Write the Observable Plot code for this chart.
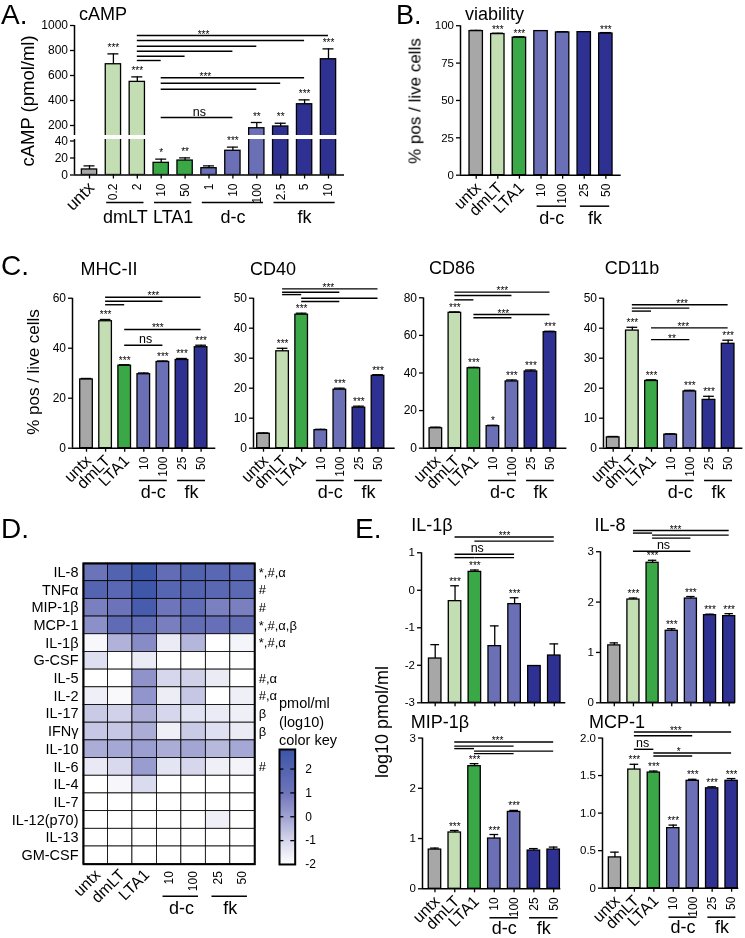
<!DOCTYPE html>
<html><head><meta charset="utf-8">
<script src="https://cdn.jsdelivr.net/npm/d3@7"></script>
<script src="https://cdn.jsdelivr.net/npm/@observablehq/plot@0.6"></script>
<style>
body{margin:0;background:#fff;}
#fig{position:relative;width:745px;height:938px;overflow:hidden;font-family:"Liberation Sans",Arial,Helvetica,sans-serif;color:#000;background:#fff;}
#fig svg{will-change:transform;}
.t{position:absolute;white-space:nowrap;line-height:1;}
</style></head><body><div id="fig"></div>
<script>
// ---------------- DATA ----------------
// Panel A: cAMP (pmol/ml)
const aLabels = ["untx","0.2","2","10","50","1","10","100","2.5","5","10"];
const aConds  = ["untx","dmLT","dmLT","LTA1","LTA1","dc","dc","dc","fk","fk","fk"];
const aValues = [6.5, 690, 549, 14.3, 17, 8, 28.5, 178, 192, 370, 730];
const aErrors = [4.3, 83, 40, 4.3, 3.2, 2.8, 4.2, 46, 26, 35, 83];
const aStars  = ["","***","***","*","**","","***","**","**","***","***"];
const aGroupNames = ["dmLT","LTA1","d-c","fk"];
const aGroupFrom = [1,3,5,8];
const aGroupTo   = [2,4,7,10];
const aSigFrom = [2,2,2,2,2,2,3,3,3,3];
const aSigTo   = [10,9,7,6,4,3,9,8,7,6];
const aSigY    = [920,880,834,794,754,720,582,538,490,264];
const aSigText = ["***","***","ns"];
const aSigTextX = [4.77,4.85,4.6];
const aSigTextY = [920,582,264];

// 7-condition panels (B, C, D, E)
const conds7 = ["untx","dmLT","LTA1","dc","dc","fk","fk"];
const labels7 = ["untx","dmLT","LTA1","10","100","25","50"];
const groupNames7 = ["d-c","fk"];
const groupFrom7 = [3,5];
const groupTo7 = [4,6];

// Panel B: viability
const bValues = [96.4, 94.4, 92.0, 96.4, 95.5, 95.7, 94.8];
const bErrors = [0.5, 0.6, 0.6, 0, 0.5, 0, 0.6];
const bStars  = ["","***","***","","","","***"];

// Panel C
const mhcValues = [27.5, 50.8, 33.0, 29.6, 34.5, 35.3, 40.4];
const mhcErrors = [0.4, 0.7, 0.4, 0.5, 0.4, 0.6, 0.8];
const mhcStars  = ["","***","***","","***","***","***"];
const mhcSigFrom = [1,1,1,2,2], mhcSigTo = [6,4,2,6,4], mhcSigY = [60.4,58.8,57.4,47.5,41.2];
const mhcSigText = ["***","***","ns"], mhcSigTextX = [3.5,3.73,3.1], mhcSigTextY = [60.4,47.5,41.2];

const cd40Values = [4.8, 32.3, 44.5, 6.0, 19.5, 13.5, 24.1];
const cd40Errors = [0.3, 1.0, 0.5, 0.3, 0.5, 0.5, 0.4];
const cd40Stars  = ["","***","***","","***","***","***"];
const cd40SigFrom = [1,1,1,2,2], cd40SigTo = [6,4,2,6,4], cd40SigY = [53.1,52.0,51.2,50.0,48.9];
const cd40SigText = ["***"], cd40SigTextX = [3.4], cd40SigTextY = [53.1];

const cd86Values = [10.6, 72.0, 42.5, 11.7, 35.5, 40.8, 61.7];
const cd86Errors = [0.6, 0.5, 0.5, 0.5, 0.8, 0.8, 0.5];
const cd86Stars  = ["","***","***","*","***","***","***"];
const cd86SigFrom = [1,1,1,2,2], cd86SigTo = [6,4,2,6,4], cd86SigY = [83,81.2,78.9,71.1,69.4];
const cd86SigText = ["***","***"], cd86SigTextX = [3.5,3.55], cd86SigTextY = [83,71.1];

const cd11bValues = [3.6, 39.2, 22.4, 4.5, 18.9, 16.1, 34.8];
const cd11bErrors = [0.3, 1.1, 0.4, 0.3, 0.4, 1.2, 1.2];
const cd11bStars  = ["","***","***","","***","***","***"];
const cd11bSigFrom = [1,1,1,2,2], cd11bSigTo = [6,4,2,6,4], cd11bSigY = [47.8,46.7,45.7,40.1,36.2];
const cd11bSigText = ["***","***","**"], cd11bSigTextX = [3.6,3.66,3.07], cd11bSigTextY = [47.8,40.1,36.2];

// Panel D: heatmap, log10 pmol/ml
const cytokines = ["IL-8","TNFα","MIP-1β","MCP-1","IL-1β","G-CSF","IL-5","IL-2","IL-17","IFNγ","IL-10","IL-6","IL-4","IL-7","IL-12(p70)","IL-13","GM-CSF"];
const cytokineNotes = ["*,#,α","#","#","*,#,α,β","*,#,α","","#,α","#,α","β","β","","#","","","","",""];
const heatmapValues = [
  [1.14, 2.05, 2.78, 1.43, 2.07, 1.74, 1.72],
  [1.95, 1.75, 2.70, 1.85, 2.00, 1.75, 1.70],
  [0.78, 1.12, 2.44, 1.00, 1.53, 0.76, 0.78],
  [0.41, 1.58, 1.54, 0.80, 1.43, 1.33, 1.43],
  [-1.82, -0.29, 0.49, -1.49, -0.37, -2.0, -1.74],
  [-1.2, -2.0, -1.5, -2.0, -2.0, -2.0, -2.0],
  [-2.0, -2.0, 0.35, -1.0, -0.9, -1.5, -2.0],
  [-1.6, -1.85, 0.3, -1.55, -0.7, -2.0, -1.6],
  [-0.75, -0.9, -0.2, -1.0, -1.3, -1.5, -1.6],
  [-0.7, -0.7, -0.2, -1.6, -0.75, -1.2, -1.5],
  [-0.2, -0.1, 0.1, -0.2, -0.05, -0.4, -0.1],
  [-1.45, -1.05, 0.15, -1.35, -1.0, -1.6, -1.7],
  [-2.0, -1.8, -1.1, -2.0, -2.0, -2.0, -2.0],
  [-2.0, -2.0, -2.0, -2.0, -2.0, -2.0, -2.0],
  [-2.0, -2.0, -2.0, -2.0, -2.0, -1.6, -2.0],
  [-2.0, -2.0, -2.0, -2.0, -2.0, -2.0, -2.0],
  [-2.0, -2.0, -2.0, -2.0, -2.0, -2.0, -2.0]
];
const keyLabels = [-2,-1,0,1,2];
const keyDashes = [-1,0,1,2];

// Panel E: log10 pmol/ml
const il1bValues = [-1.82, -0.29, 0.49, -1.49, -0.37, -2.02, -1.74];
const il1bErrors = [0.37, 0.41, 0.05, 0.54, 0.17, 0, 0.31];
const il1bStars  = ["","***","***","","***","",""];
const il1bSigFrom = [1,2,1,1,2], il1bSigTo = [6,6,4,2,4], il1bSigY = [1.42,1.31,0.96,0.87,0.87];
const il1bSigText = ["***","ns"], il1bSigTextX = [3.49,2.12], il1bSigTextY = [1.42,0.96];

const il8Values = [1.14, 2.05, 2.78, 1.43, 2.07, 1.74, 1.72];
const il8Errors = [0.05, 0.03, 0.05, 0.04, 0.04, 0.02, 0.05];
const il8Stars  = ["","***","***","***","***","***","***"];
const il8SigFrom = [1,1,2,2,1], il8SigTo = [6,2,6,4,4], il8SigY = [3.42,3.37,3.33,3.27,3.01];
const il8SigText = ["***","ns"], il8SigTextX = [3.2,2.57], il8SigTextY = [3.42,3.01];

const mipValues = [0.78, 1.12, 2.44, 1.00, 1.53, 0.76, 0.78];
const mipErrors = [0.03, 0.04, 0.05, 0.08, 0.03, 0.04, 0.05];
const mipStars  = ["","***","***","***","***","",""];
const mipSigFrom = [1,1,1,2,2], mipSigTo = [6,4,2,6,4], mipSigY = [2.92,2.84,2.79,2.74,2.69];
const mipSigText = ["***"], mipSigTextX = [3.16], mipSigTextY = [2.92];

const mcpValues = [0.41, 1.58, 1.54, 0.80, 1.43, 1.33, 1.43];
const mcpErrors = [0.07, 0.07, 0.02, 0.04, 0.02, 0.02, 0.03];
const mcpStars  = ["","***","***","***","***","***","***"];
const mcpSigFrom = [1,1,1,2,2], mcpSigTo = [6,4,2,6,4], mcpSigY = [2.08,2.03,1.85,1.80,1.76];
const mcpSigText = ["***","ns","*"], mcpSigTextX = [3.13,1.42,3.28], mcpSigTextY = [2.08,1.85,1.80];

// ---------------- STYLE ----------------
const COLORS = {untx: "#a7a7a7", dmLT: "#c3deb3", LTA1: "#3ba848", dc: "#6b6fb6", fk: "#2e3191"};
const HEAT_COLOR = {type: "linear", domain: [-2, -1, 0, 1, 2.82], range: ["#ffffff", "#d6d7ec", "#a0a3d2", "#6f75ba", "#3c55a8"], clamp: true};
const FONT = '"Liberation Sans", Arial, Helvetica, sans-serif';
const fig = document.getElementById("fig");

function txt(s, x, y, size, mode) {
  const d = document.createElement("div");
  d.className = "t";
  d.textContent = s;
  d.style.left = x + "px";
  d.style.top = y + "px";
  d.style.fontSize = size + "px";
  d.style.transform = mode === "rot" ? "translate(-50%,-50%) rotate(-90deg)" :
                      mode === "c" ? "translate(-50%,-50%)" : "translate(0,-50%)";
  fig.appendChild(d);
}

const ML = 50, MR = 20, MT = 20, MB = 80;
function mkPlot(f, opts, marks) {
  const width = f.x1 - f.x0 + ML + MR;
  const height = f.y1 - f.y0 + MT + MB;
  const svg = Plot.plot(Object.assign({
    width, height, marginLeft: ML, marginRight: MR, marginTop: MT, marginBottom: MB,
    style: {fontFamily: FONT, fontSize: "12px", overflow: "visible", background: "none", color: "#000"},
    marks
  }, opts));
  svg.style.position = "absolute";
  svg.style.left = (f.x0 - ML) + "px";
  svg.style.top = (f.y0 - MT) + "px";
  fig.appendChild(svg);
}

// rotated category / dose labels under an x position
function xLabels(idx, labelOf, base, rotFont, rotDx, rotDy, numDy, rotCount) {
  return [
    Plot.text(idx.slice(0, rotCount), {x: i => i, y: base, text: labelOf, rotate: -45, textAnchor: "end",
      lineAnchor: "middle", dx: rotDx, dy: rotDy, fontSize: rotFont}),
    Plot.text(idx.slice(rotCount), {x: i => i, y: base, text: labelOf, rotate: -90, textAnchor: "end",
      lineAnchor: "middle", dy: numDy, fontSize: 12})
  ];
}

function barPlot(f, o) {
  const rows = o.values.map((v, i) => ({i, v, e: o.errors[i], s: o.stars[i], g: o.groups[i]}));
  const errRows = rows.filter(d => d.e > 0);
  const [lo, hi] = o.xDomain;
  const [ylo, yhi] = o.yDomain;
  const clip = !!o.clip;
  const starRows = rows.filter(d => d.s && d.v + d.e >= ylo && d.v + d.e <= yhi);
  const marks = [
    Plot.rect(rows, {x1: d => d.i - o.bw / 2, x2: d => d.i + o.bw / 2, y1: o.base, y2: d => d.v,
      fill: d => COLORS[d.g], stroke: "#000", strokeWidth: 1.3, clip}),
    Plot.ruleX(errRows, {x: d => d.i, y1: d => d.v, y2: d => d.v + d.e, strokeWidth: 1.3, clip}),
    Plot.ruleY(errRows, {y: d => d.v + d.e, x1: d => d.i - o.cap, x2: d => d.i + o.cap, strokeWidth: 1.3, clip}),
    Plot.text(starRows, {x: d => d.i, y: d => d.v + d.e, text: d => d.s, fontSize: 10,
      lineAnchor: "bottom", dy: o.starDy ?? -1, fill: "#000"}),
    Plot.axisY(o.yTicks, {tickSize: 4, tickPadding: 2.5, fontSize: o.yFont, tickFormat: o.yFmt || (d => String(d)),
      strokeWidth: 1.3, label: null}),
    Plot.ruleX([lo], {y1: o.yLine[0], y2: o.yLine[1], strokeWidth: 1.5})
  ];
  if (o.xAxis) {
    marks.push(
      Plot.ruleY([o.base], {x1: lo, x2: hi, strokeWidth: 1.5}),
      Plot.axisX(rows.map(d => d.i), {tickSize: 4, tickFormat: () => "", strokeWidth: 1.3, label: null})
    );
  }
  if (o.labels) {
    marks.push(...xLabels(rows.map(d => d.i), i => o.labels[i], o.base, o.rotFont, 2, o.rotDy, 8.5, o.rotCount));
  }
  if (o.gNames) {
    const gr = o.gNames.map((name, k) => ({name, a: o.gFrom[k], b: o.gTo[k]}));
    marks.push(
      Plot.ruleY(gr, {y: o.base, x1: d => d.a - o.gPad, x2: d => d.b + o.gPad, dy: o.gDy, strokeWidth: 1.5}),
      Plot.text(gr, {x: d => (d.a + d.b) / 2, y: o.base, text: d => d.name, dy: o.gTextDy, fontSize: 18, lineAnchor: "middle"})
    );
  }
  if (o.sigFrom) {
    const sl = o.sigFrom.map((a, k) => ({a, b: o.sigTo[k], y: o.sigY[k]}));
    const lab = o.sigText.map((t, k) => ({t, x: o.sigTextX[k], y: o.sigTextY[k]}));
    marks.push(
      Plot.ruleY(sl, {y: d => d.y, x1: d => d.a, x2: d => d.b, strokeWidth: 1.4}),
      Plot.text(lab.filter(d => d.t !== "ns"), {x: d => d.x, y: d => d.y, text: d => d.t, fontSize: 10, lineAnchor: "bottom", dy: 2, fill: "#000"}),
      Plot.text(lab.filter(d => d.t === "ns"), {x: d => d.x, y: d => d.y, text: d => d.t, fontSize: 12.5, lineAnchor: "bottom", dy: -2})
    );
  }
  const opts = {x: {domain: o.xDomain}, y: {domain: o.yDomain}};
  if (!o.xAxis && !o.labels) opts.x.axis = null;
  mkPlot(f, opts, marks);
}

const common7 = {groups: conds7, labels: labels7, rotCount: 3, rotFont: 16, rotDy: 10,
  gNames: groupNames7, gFrom: groupFrom7, gTo: groupTo7, xAxis: true};

// ---------------- PANEL A ----------------
const aX = [-0.628, 10.67];
const aCommon = {values: aValues, errors: aErrors, stars: aStars, groups: aConds, bw: 0.64, cap: 0.23, xDomain: aX, base: 0, clip: true, yFont: 12, starDy: -3};
barPlot({x0: 74, x1: 344, y0: 20, y1: 135}, Object.assign({}, aCommon, {
  yDomain: [120, 1040], yTicks: [200,400,600,800,1000], yLine: [120, 1000],
  sigFrom: aSigFrom, sigTo: aSigTo, sigY: aSigY, sigText: aSigText, sigTextX: aSigTextX, sigTextY: aSigTextY
}));
barPlot({x0: 74, x1: 344, y0: 139, y1: 174.5}, Object.assign({}, aCommon, {
  yDomain: [0, 41.76], yTicks: [0,20,40], yLine: [0, 41.76], xAxis: true,
  labels: aLabels, rotCount: 1, rotFont: 17, rotDy: 10,
  gNames: aGroupNames, gFrom: aGroupFrom, gTo: aGroupTo, gPad: 0.28, gDy: 27.5, gTextDy: 42.5
}));

// ---------------- PANEL B ----------------
barPlot({x0: 460, x1: 620.7, y0: 20, y1: 174.7}, Object.assign({}, common7, {
  values: bValues, errors: bErrors, stars: bStars, bw: 0.62, cap: 0.26, starDy: 0,
  xDomain: [-0.727, 6.71], yDomain: [0, 103.5], base: 0, yTicks: [0,25,50,75,100], yLine: [0,100], yFont: 11.5,
  gPad: 0.18, gDy: 31, gTextDy: 43.5
}));

// ---------------- PANEL C ----------------
const cCommon = Object.assign({}, common7, {bw: 0.66, cap: 0.28, base: 0, yFont: 12, gPad: 0.23, gDy: 32.3, gTextDy: 44});
barPlot({x0: 71.7, x1: 215, y0: 285, y1: 447.7}, Object.assign({}, cCommon, {
  values: mhcValues, errors: mhcErrors, stars: mhcStars, xDomain: [-0.733, 6.77], yDomain: [0, 65.1],
  yTicks: [0,20,40,60], yLine: [0,60],
  sigFrom: mhcSigFrom, sigTo: mhcSigTo, sigY: mhcSigY, sigText: mhcSigText, sigTextX: mhcSigTextX, sigTextY: mhcSigTextY
}));
barPlot({x0: 253.3, x1: 395, y0: 280, y1: 447.7}, Object.assign({}, cCommon, {
  values: cd40Values, errors: cd40Errors, stars: cd40Stars, xDomain: [-0.524, 6.9], yDomain: [0, 55.9],
  yTicks: [0,10,20,30,40,50], yLine: [0,50],
  sigFrom: cd40SigFrom, sigTo: cd40SigTo, sigY: cd40SigY, sigText: cd40SigText, sigTextX: cd40SigTextX, sigTextY: cd40SigTextY
}));
barPlot({x0: 423.3, x1: 566.7, y0: 280, y1: 447.7}, Object.assign({}, cCommon, {
  values: cd86Values, errors: cd86Errors, stars: cd86Stars, xDomain: [-0.65, 6.89], yDomain: [0, 89.2],
  yTicks: [0,20,40,60,80], yLine: [0,80],
  sigFrom: cd86SigFrom, sigTo: cd86SigTo, sigY: cd86SigY, sigText: cd86SigText, sigTextX: cd86SigTextX, sigTextY: cd86SigTextY
}));
barPlot({x0: 603.3, x1: 742.7, y0: 280, y1: 447.7}, Object.assign({}, cCommon, {
  values: cd11bValues, errors: cd11bErrors, stars: cd11bStars, xDomain: [-0.506, 6.77], yDomain: [0, 55.9],
  yTicks: [0,10,20,30,40,50], yLine: [0,50],
  sigFrom: cd11bSigFrom, sigTo: cd11bSigTo, sigY: cd11bSigY, sigText: cd11bSigText, sigTextX: cd11bSigTextX, sigTextY: cd11bSigTextY
}));

// ---------------- PANEL E ----------------
const eCommon = Object.assign({}, common7, {bw: 0.63, cap: 0.22, yFont: 11.5, gPad: 0.22, gDy: 29, gTextDy: 39.5});
barPlot({x0: 420.7, x1: 565, y0: 526, y1: 702.3}, Object.assign({}, eCommon, {
  values: il1bValues, errors: il1bErrors, stars: il1bStars, xDomain: [-0.69, 6.58], yDomain: [-3, 1.70], base: -3,
  yTicks: [-3,-2,-1,0,1], yLine: [-3,1], labels: null, gNames: null,
  sigFrom: il1bSigFrom, sigTo: il1bSigTo, sigY: il1bSigY, sigText: il1bSigText, sigTextX: il1bSigTextX, sigTextY: il1bSigTextY
}));
barPlot({x0: 600, x1: 735, y0: 520, y1: 702.3}, Object.assign({}, eCommon, {
  values: il8Values, errors: il8Errors, stars: il8Stars, xDomain: [-0.72, 6.33], yDomain: [0, 3.62], base: 0,
  yTicks: [0,1,2,3], yLine: [0,3], labels: null, gNames: null,
  sigFrom: il8SigFrom, sigTo: il8SigTo, sigY: il8SigY, sigText: il8SigText, sigTextX: il8SigTextX, sigTextY: il8SigTextY
}));
barPlot({x0: 421.7, x1: 560, y0: 728, y1: 888.3}, Object.assign({}, eCommon, {
  values: mipValues, errors: mipErrors, stars: mipStars, xDomain: [-0.63, 6.36], yDomain: [0, 3.19], base: 0,
  yTicks: [0,1,2,3], yLine: [0,3],
  sigFrom: mipSigFrom, sigTo: mipSigTo, sigY: mipSigY, sigText: mipSigText, sigTextX: mipSigTextX, sigTextY: mipSigTextY
}));
barPlot({x0: 601.7, x1: 738, y0: 718, y1: 887.7}, Object.assign({}, eCommon, {
  values: mcpValues, errors: mcpErrors, stars: mcpStars, xDomain: [-0.64, 6.37], yDomain: [0, 2.26], base: 0,
  yTicks: [0,0.5,1,1.5,2], yLine: [0,2], yFmt: d => d === 0 ? "0" : d.toFixed(1),
  sigFrom: mcpSigFrom, sigTo: mcpSigTo, sigY: mcpSigY, sigText: mcpSigText, sigTextX: mcpSigTextX, sigTextY: mcpSigTextY
}));

// ---------------- PANEL D (heatmap) ----------------
(function () {
  const cells = [];
  heatmapValues.forEach((row, r) => row.forEach((v, c) => cells.push({r, c, v})));
  const rowTicks = cytokines.map((_, r) => r + 0.5);
  const colTicks = labels7.map((_, c) => c + 0.5);
  const gr = groupNames7.map((name, k) => ({name, a: groupFrom7[k] + 0.5, b: groupTo7[k] + 0.5}));
  mkPlot({x0: 82.7, x1: 254, y0: 563.3, y1: 864}, {
    x: {domain: [0, 7]}, y: {domain: [17, 0]}, color: HEAT_COLOR
  }, [
    Plot.rect(cells, {x1: d => d.c, x2: d => d.c + 1, y1: d => d.r, y2: d => d.r + 1, fill: d => d.v, stroke: "#000", strokeWidth: 0.8}),
    Plot.frame({stroke: "#000", strokeWidth: 2}),
    Plot.axisY(rowTicks, {anchor: "left", tickSize: 0, tickPadding: 5, fontSize: 14.5, tickFormat: v => cytokines[v - 0.5], label: null}),
    Plot.axisY(rowTicks, {anchor: "right", tickSize: 0, tickPadding: 4, fontSize: 13, tickFormat: v => cytokineNotes[v - 0.5], label: null}),
    Plot.axisX([], {label: null}),
    ...xLabels(colTicks, v => labels7[v - 0.5], 17, 16, 2, 8, 7, 3),
    Plot.ruleY(gr, {y: 17, x1: d => d.a - 0.25, x2: d => d.b + 0.2, dy: 32, strokeWidth: 1.5}),
    Plot.text(gr, {x: d => (d.a + d.b) / 2, y: 17, text: d => d.name, dy: 44, fontSize: 18, lineAnchor: "middle"})
  ]);
  // color key
  let keyMarks;
  try {
    keyMarks = [Plot.raster({x1: 0, x2: 1, y1: -2, y2: 2.82, width: 2, height: 240, fill: (x, y) => y, imageRendering: "auto"})];
  } catch (e) { keyMarks = []; }
  keyMarks.push(
    Plot.ruleY(keyDashes, {x1: 0, x2: 0.28, strokeWidth: 1.3}),
    Plot.ruleY(keyDashes, {x1: 0.72, x2: 1, strokeWidth: 1.3}),
    Plot.frame({stroke: "#000", strokeWidth: 2}),
    Plot.axisY(keyLabels, {anchor: "right", tickSize: 0, tickPadding: 10, fontSize: 12, tickFormat: d => String(d), label: null})
  );
  mkPlot({x0: 279.3, x1: 295, y0: 749.3, y1: 864.3}, {
    x: {domain: [0, 1], axis: null}, y: {domain: [-2, 2.82]}, color: HEAT_COLOR
  }, keyMarks);
})();

// ---------------- TEXT ----------------
txt("A.", 1, 15, 28); txt("B.", 396, 15, 27); txt("C.", 1, 266, 28); txt("D.", 1, 529, 28); txt("E.", 355, 529, 28);
txt("cAMP", 79, 14, 18); txt("viability", 465, 14, 18);
txt("MHC-II", 109, 269, 18, "c"); txt("CD40", 273, 269, 18, "c"); txt("CD86", 452, 268, 18, "c"); txt("CD11b", 632, 268, 18, "c");
txt("IL-1β", 432, 525, 18, "c"); txt("IL-8", 610, 525, 18, "c"); txt("MIP-1β", 440, 722, 18, "c"); txt("MCP-1", 617, 722, 18, "c");
txt("cAMP (pmol/ml)", 27.5, 101, 18.5, "rot");
txt("% pos / live cells", 415, 101, 17, "rot");
txt("% pos / live cells", 33, 372, 17, "rot");
txt("log10 pmol/ml", 382, 722, 18, "rot");
txt("pmol/ml", 279, 703, 14.5); txt("(log10)", 279, 721.5, 14.5); txt("color key", 279, 739.5, 14.5);
</script></body></html>
